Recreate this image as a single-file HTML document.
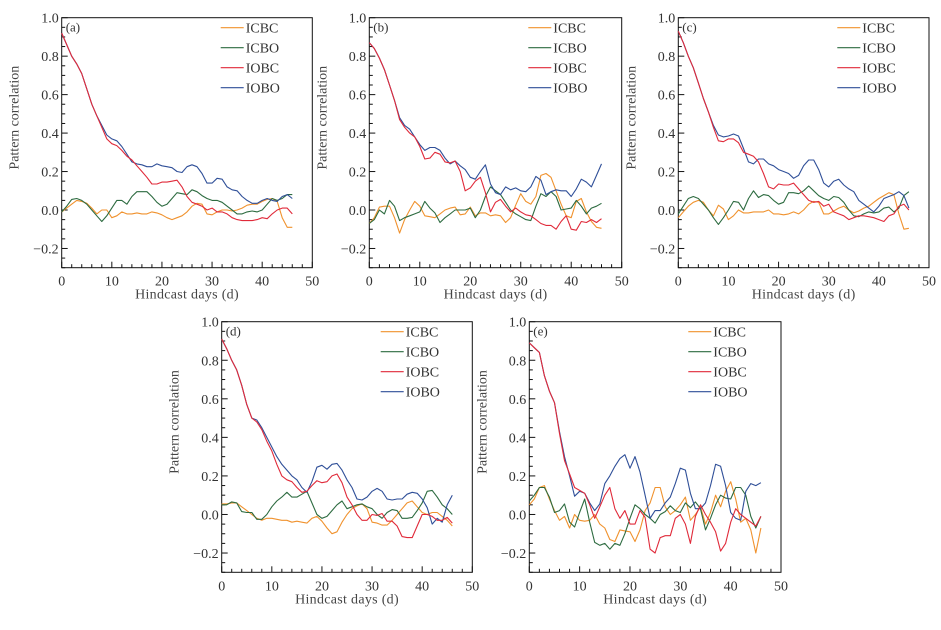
<!DOCTYPE html>
<html><head><meta charset="utf-8">
<style>
html,body{margin:0;padding:0;background:#fff;}
svg{display:block;font-family:"Liberation Serif",serif;}
</style></head>
<body>
<svg id="fig" width="941" height="630" viewBox="0 0 941 630" xmlns="http://www.w3.org/2000/svg"></svg>
<script>
const seriesNames = ["ICBC","ICBO","IOBC","IOBO"];
const seriesColors = ["#f0922e","#2d6b40","#e02a3a","#2f4f98"];
const xTicks = [0,10,20,30,40,50];
const yTicks = [1.0,0.8,0.6,0.4,0.2,0.0,-0.2];
const panelLabels = ["(a)","(b)","(c)","(d)","(e)"];

const aICBC=[-0.01,0.01,0.03,0.05,0.045,0.035,0.01,-0.02,0.00,0.00,-0.04,-0.03,-0.01,-0.02,-0.02,-0.015,-0.02,-0.02,-0.01,-0.015,-0.025,-0.04,-0.05,-0.04,-0.03,-0.01,0.02,0.035,0.03,-0.02,-0.025,-0.01,0.00,0.00,-0.005,0.00,0.01,0.025,0.03,0.03,0.045,0.055,0.06,0.045,-0.04,-0.09,-0.09];
const aICBO=[-0.01,0.02,0.055,0.06,0.05,0.03,0.00,-0.03,-0.06,-0.03,0.01,0.05,0.05,0.03,0.07,0.095,0.095,0.095,0.07,0.04,0.02,0.03,0.06,0.09,0.085,0.08,0.105,0.095,0.075,0.06,0.05,0.05,0.04,0.02,0.00,-0.02,-0.02,-0.01,-0.005,-0.01,0.00,0.03,0.06,0.05,0.06,0.08,0.08];
const aIOBC=[0.92,0.86,0.80,0.76,0.71,0.63,0.55,0.49,0.43,0.37,0.345,0.335,0.31,0.28,0.26,0.23,0.20,0.17,0.135,0.135,0.145,0.145,0.15,0.155,0.12,0.07,0.04,0.03,0.02,0.00,0.01,-0.01,-0.01,-0.02,-0.04,-0.05,-0.055,-0.055,-0.055,-0.05,-0.04,-0.045,-0.02,0.00,0.01,0.01,-0.02];
const aIOBO=[0.92,0.86,0.80,0.76,0.71,0.63,0.55,0.49,0.44,0.39,0.37,0.36,0.33,0.29,0.25,0.24,0.235,0.225,0.225,0.24,0.23,0.225,0.22,0.20,0.195,0.225,0.235,0.225,0.19,0.14,0.14,0.165,0.16,0.12,0.105,0.10,0.07,0.05,0.035,0.035,0.05,0.06,0.05,0.045,0.07,0.08,0.06];

const bICBC=[-0.07,-0.04,0.015,0.02,0.02,-0.04,-0.12,-0.05,0.00,0.045,0.02,-0.03,-0.035,-0.04,-0.02,0.00,0.01,0.015,-0.025,-0.02,0.015,-0.03,-0.015,-0.015,-0.03,-0.025,-0.03,-0.065,-0.04,0.025,0.085,0.045,0.03,0.07,0.18,0.19,0.17,0.10,0.03,-0.03,-0.04,0.045,0.06,-0.01,-0.06,-0.09,-0.095];
const bICBO=[-0.07,-0.05,0.00,-0.02,0.05,0.02,-0.055,-0.04,-0.03,-0.02,-0.01,0.045,0.01,-0.015,-0.065,-0.04,-0.02,0.00,0.00,0.00,0.01,-0.04,0.0,0.07,0.12,0.10,0.08,0.04,0.00,-0.02,-0.035,-0.05,-0.055,0.02,0.085,0.07,0.095,0.07,0.00,0.005,0.01,0.05,0.02,-0.02,0.01,0.02,0.035];
const bIOBC=[0.87,0.84,0.79,0.73,0.65,0.57,0.47,0.43,0.40,0.38,0.33,0.265,0.27,0.30,0.29,0.25,0.245,0.255,0.2,0.10,0.115,0.15,0.17,0.09,-0.01,0.04,0.055,0.02,-0.01,0.01,-0.01,-0.025,-0.03,-0.05,-0.07,-0.08,-0.08,-0.1,-0.06,-0.03,-0.1,-0.105,-0.06,-0.065,-0.05,-0.065,-0.045];
const bIOBO=[0.87,0.84,0.79,0.73,0.65,0.57,0.48,0.44,0.42,0.38,0.34,0.31,0.325,0.325,0.31,0.27,0.24,0.255,0.23,0.21,0.17,0.16,0.20,0.235,0.135,0.09,0.08,0.12,0.105,0.115,0.10,0.095,0.12,0.175,0.155,0.08,0.095,0.105,0.10,0.10,0.07,0.11,0.16,0.145,0.12,0.18,0.24];

const cICBC=[-0.04,-0.01,0.02,0.04,0.05,0.04,0.00,-0.03,0.025,0.005,-0.05,-0.03,0.00,-0.015,-0.015,-0.01,-0.01,-0.01,0.00,-0.02,-0.02,-0.025,-0.02,-0.01,-0.02,0.00,0.03,0.045,0.04,-0.02,-0.02,-0.005,0.01,0.02,0.00,-0.015,-0.005,0.01,0.02,0.04,0.06,0.075,0.09,0.08,-0.02,-0.10,-0.095];
const cICBO=[-0.02,0.02,0.06,0.07,0.06,0.03,0.00,-0.04,-0.075,-0.04,0.00,0.045,0.04,0.00,0.06,0.10,0.065,0.08,0.075,0.05,0.03,0.04,0.09,0.09,0.085,0.10,0.125,0.10,0.075,0.06,0.05,0.07,0.065,0.04,0.00,-0.03,-0.035,-0.02,-0.01,-0.015,-0.01,0.01,0.015,-0.01,0.01,0.075,0.095];
const cIOBC=[0.93,0.87,0.80,0.74,0.66,0.58,0.51,0.43,0.36,0.355,0.37,0.37,0.35,0.30,0.29,0.28,0.25,0.19,0.12,0.11,0.135,0.13,0.13,0.14,0.11,0.08,0.05,0.04,0.045,0.02,0.03,-0.01,-0.02,-0.03,-0.05,-0.04,-0.03,-0.03,-0.035,-0.04,-0.05,-0.06,-0.03,-0.02,0.02,0.03,0.00];
const cIOBO=[0.93,0.87,0.80,0.74,0.66,0.58,0.51,0.44,0.39,0.38,0.385,0.395,0.385,0.32,0.25,0.24,0.265,0.265,0.24,0.23,0.21,0.20,0.19,0.165,0.18,0.23,0.26,0.26,0.21,0.14,0.12,0.15,0.16,0.13,0.11,0.095,0.05,0.03,0.01,-0.01,0.02,0.06,0.07,0.08,0.095,0.075,0.01];

const dICBC=[0.055,0.055,0.06,0.06,0.04,0.02,0.00,-0.02,-0.03,-0.02,-0.02,-0.025,-0.03,-0.03,-0.04,-0.035,-0.04,-0.045,-0.02,-0.01,-0.035,-0.07,-0.10,-0.09,-0.04,0.00,0.03,0.045,0.055,0.03,-0.04,-0.045,-0.055,-0.055,-0.03,0.00,0.03,0.06,0.07,0.04,0.01,0.00,0.01,0.01,-0.01,-0.03,-0.06];
const dICBO=[0.05,0.05,0.065,0.06,0.015,0.01,0.01,-0.025,-0.025,0.00,0.04,0.07,0.09,0.115,0.09,0.09,0.105,0.12,0.06,0.00,-0.02,-0.01,0.02,0.05,0.07,0.03,0.04,0.05,0.055,0.04,0.03,0.00,-0.02,0.01,0.025,0.02,-0.02,-0.02,-0.015,0.02,0.06,0.12,0.125,0.09,0.05,0.03,0.00];
const dIOBC=[0.91,0.86,0.80,0.75,0.67,0.57,0.50,0.48,0.44,0.38,0.33,0.26,0.20,0.18,0.17,0.14,0.115,0.12,0.15,0.175,0.165,0.17,0.20,0.21,0.165,0.09,0.05,0.00,-0.03,-0.03,0.00,-0.005,0.005,-0.035,-0.035,-0.06,-0.115,-0.12,-0.12,-0.06,0.00,0.00,-0.01,-0.03,-0.03,-0.015,-0.045];
const dIOBO=[0.91,0.86,0.80,0.75,0.67,0.57,0.50,0.49,0.45,0.40,0.35,0.30,0.26,0.23,0.20,0.18,0.14,0.115,0.17,0.245,0.255,0.235,0.26,0.265,0.23,0.18,0.14,0.08,0.075,0.09,0.12,0.135,0.12,0.08,0.075,0.08,0.08,0.105,0.115,0.11,0.08,0.035,-0.05,-0.02,-0.04,0.05,0.10];

const eICBC=[0.05,0.08,0.14,0.15,0.08,0.02,-0.03,-0.01,-0.07,0.00,-0.03,-0.035,-0.03,0.00,-0.05,-0.07,-0.13,-0.14,-0.08,-0.085,-0.09,-0.14,-0.08,0.02,0.06,0.14,0.14,0.04,0.00,0.02,0.05,0.09,-0.03,0.00,0.04,-0.05,0.01,0.10,0.04,0.12,0.17,0.08,-0.04,-0.02,-0.08,-0.2,-0.07];
const eICBO=[0.07,0.10,0.14,0.14,0.09,0.01,0.02,0.055,-0.04,-0.065,0.01,0.08,-0.04,-0.145,-0.16,-0.15,-0.18,-0.15,-0.16,-0.10,-0.02,0.05,0.03,0.00,-0.02,-0.045,0.00,0.015,0.045,0.02,0.01,0.06,0.035,0.065,0.03,-0.08,-0.02,0.05,0.10,0.085,0.08,0.14,0.14,0.10,-0.01,-0.07,-0.01];
const eIOBC=[0.89,0.865,0.84,0.72,0.64,0.58,0.42,0.28,0.21,0.14,0.125,0.11,0.05,-0.02,0.04,0.1,0.14,0.03,-0.02,0.02,-0.05,-0.05,0.02,-0.015,-0.18,-0.2,-0.12,-0.11,-0.11,-0.02,0.00,-0.05,-0.15,-0.01,0.05,0.00,-0.04,-0.09,-0.19,-0.15,-0.04,0.03,0.00,-0.02,-0.04,-0.06,-0.01];
const eIOBO=[0.89,0.865,0.84,0.72,0.64,0.58,0.43,0.30,0.20,0.095,0.12,0.11,0.06,0.02,0.055,0.16,0.2,0.25,0.29,0.31,0.24,0.30,0.22,0.10,-0.02,0.02,0.02,0.06,0.09,0.16,0.24,0.23,0.11,0.03,0.03,0.06,0.15,0.26,0.25,0.15,0.01,-0.02,-0.03,0.12,0.16,0.15,0.165];

const panelSeries = [
  [aICBC,aICBO,aIOBC,aIOBO],
  [bICBC,bICBO,bIOBC,bIOBO],
  [cICBC,cICBO,cIOBC,cIOBO],
  [dICBC,dICBO,dIOBC,dIOBO],
  [eICBC,eICBO,eIOBC,eIOBO]
];
const drawOrder = [0,1,3,2];
const layout = [
  {l:61.7,r:312.3,t:17.7,b:267.7},
  {l:369.3,r:621.7,t:17.7,b:267.7},
  {l:678.3,r:929,t:17.7,b:267.7},
  {l:221.7,r:472.3,t:321.7,b:572.3},
  {l:529.3,r:781,t:321.7,b:572.3}
];
const NS="http://www.w3.org/2000/svg";
const svg=document.getElementById('fig');
function mk(tag,attrs,parent){const e=document.createElementNS(NS,tag);for(const k in attrs)e.setAttribute(k,attrs[k]);(parent||svg).appendChild(e);return e;}
const ink="#333";
layout.forEach((L,pi)=>{
  const g=mk('g',{});
  
  
  const xs=v=>L.l+(v-0)/50*(L.r-L.l);
  const ys=v=>L.t+(1.0-v)/1.3*(L.b-L.t);
  const fr=mk('rect',{x:L.l,y:L.t,width:L.r-L.l,height:L.b-L.t,fill:'none',stroke:'#111','stroke-width':1},g);
  
  
  for(let d=0;d<=50;d+=2){
    const major=d%10===0;
    mk('line',{x1:xs(d),x2:xs(d),y1:L.b,y2:L.b-(major?6:3.5),stroke:'#111','stroke-width':1},g);
  }
  xTicks.forEach(v=>{
    const t=mk('text',{x:xs(v),y:L.b+18,'text-anchor':'middle','font-size':14,fill:ink},g);
    t.textContent=v;
    
    
  });
  for(let k=-6;k<=20;k++){
    const v=k*0.05;const major=k%4===0;
    mk('line',{x1:L.l,x2:L.l+(major?6:3.5),y1:ys(v),y2:ys(v),stroke:'#111','stroke-width':1},g);
  }
  yTicks.forEach(v=>{
    const t=mk('text',{x:L.l-3,y:ys(v)+5,'text-anchor':'end','font-size':14,fill:ink},g);
    t.textContent=(v<0?'\u2212':'')+Math.abs(v).toFixed(1);
    
    
  });
  const xt=mk('text',{x:(L.l+L.r)/2,y:L.b+31,'text-anchor':'middle','font-size':14,fill:'#444','letter-spacing':'0.3'},g);
  xt.textContent='Hindcast  days  (d)';
  
  
  const cy=(L.t+L.b)/2-25;
  const yt=mk('text',{x:L.l-43,y:cy,'text-anchor':'middle','font-size':14,fill:'#444',transform:`rotate(-90 ${L.l-43} ${cy})`},g);
  yt.textContent='Pattern  correlation';
  
  
  const pl=mk('text',{x:L.l+4,y:L.t+14,'font-size':13,fill:ink},g);
  pl.textContent=panelLabels[pi];
  
  
  drawOrder.forEach(si=>{
    const arr=panelSeries[pi][si];
    const pts=arr.map((v,i)=>xs(i).toFixed(1)+','+ys(v).toFixed(1)).join(' ');
    const p=mk('polyline',{points:pts,fill:'none',stroke:seriesColors[si],'stroke-width':1.1,'stroke-linejoin':'round'},g);
    
    
  });
  seriesNames.forEach((n,si)=>{
    const y=L.t+10+si*20;
    const lx=L.l+159;
    const le=mk('g',{},g);
    
    
    mk('line',{x1:lx,x2:lx+23,y1:y,y2:y,stroke:seriesColors[si],'stroke-width':1.2},le);
    const t=mk('text',{x:lx+25,y:y+5,'font-size':14,fill:ink},le);
    t.textContent=n;
  });
});
</script>
</body></html>
